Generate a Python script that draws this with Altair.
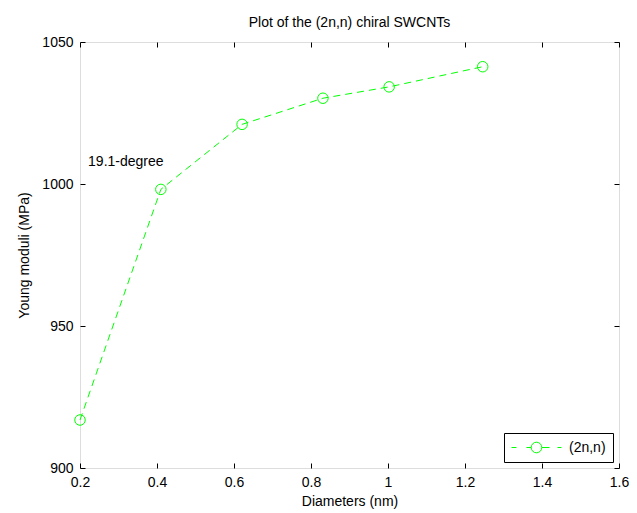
import altair as alt
import pandas as pd

# ---- data ----
diameters = [0.2, 0.41, 0.621, 0.831, 1.003, 1.246]
young_moduli = [916.9, 998.1, 1021.0, 1030.2, 1034.2, 1041.3]
series_name = ["(2n,n)"] * 6
x_ticks = [0.2, 0.4, 0.6, 0.8, 1.0, 1.2, 1.4, 1.6]
y_ticks = [900, 950, 1000, 1050]
annot_text = ["19.1-degree"]
annot_x = [0.221]
annot_y = [1007.7]

FONT = "Liberation Sans"
GREEN = "#00ff00"

df = pd.DataFrame({"d": diameters, "E": young_moduli, "s": series_name})
ann = pd.DataFrame({"t": annot_text, "x": annot_x, "y": annot_y})

xs = alt.Scale(domain=[0.2, 1.6], nice=False, zero=False)
ys = alt.Scale(domain=[900, 1050], nice=False, zero=False)

txt = dict(labelFont=FONT, labelFontSize=14, labelColor="black",
           titleFont=FONT, titleFontSize=14, titleFontWeight="normal",
           titleColor="black")

# labelled axes (no ticks)
x_labels = alt.Axis(values=x_ticks, format="~g", title="Diameters (nm)",
                    grid=False, domain=False, ticks=False, labelPadding=7,
                    titlePadding=5, labelFlush=False, **txt)
y_labels = alt.Axis(values=y_ticks, format="d", title="Young moduli (MPa)",
                    grid=False, domain=False, ticks=False, labelPadding=7,
                    titlePadding=10, labelFlush=False, **txt)

# inward tick marks: tick axes shifted into the plot by their tick length
tick_style = dict(grid=False, domain=False, labels=False, title=None,
                  ticks=True, tickSize=5, tickColor="black", tickWidth=1,
                  offset=-5, zindex=2)
x_bottom_ticks = alt.Axis(values=x_ticks, orient="bottom", **tick_style)
y_left_ticks = alt.Axis(values=y_ticks, orient="left", **tick_style)
x_top_ticks = alt.Axis(values=x_ticks, orient="top", **tick_style)
y_right_ticks = alt.Axis(values=y_ticks, orient="right", **tick_style)

# legend symbol: dashed line with a circle marker (unit = 7 px)
sym_path = ("M-1,0L-0.29,0M1.14,0L1.81,0M3.33,0L4.43,0M5.57,0L6.14,0"
            "M3.33,0A0.76,0.76 0 1,1 1.81,0A0.76,0.76 0 1,1 3.33,0")

legend = alt.Legend(title=None, orient="bottom-right", offset=6,
                    strokeColor="black", fillColor="white", padding=7,
                    symbolType=sym_path, symbolSize=196, symbolStrokeWidth=1,
                    symbolFillColor="transparent", labelOffset=43,
                    labelFont=FONT, labelFontSize=14, labelColor="black",
                    cornerRadius=0)

line = alt.Chart(df).mark_line(strokeDash=[7, 5], strokeWidth=1).encode(
    x=alt.X("d:Q", scale=xs, axis=x_labels),
    y=alt.Y("E:Q", scale=ys, axis=y_labels),
    color=alt.Color("s:N", scale=alt.Scale(domain=["(2n,n)"], range=[GREEN]),
                    legend=legend),
)

points = alt.Chart(df).mark_point(shape="circle", filled=False, size=110,
                                  strokeWidth=1, color=GREEN, opacity=1).encode(
    x=alt.X("d:Q", scale=xs, axis=x_bottom_ticks),
    y=alt.Y("E:Q", scale=ys, axis=y_left_ticks),
)

text = alt.Chart(ann).mark_text(align="left", baseline="middle", font=FONT,
                                fontSize=14, color="black").encode(
    x=alt.X("x:Q", scale=xs, axis=x_top_ticks),
    y=alt.Y("y:Q", scale=ys, axis=y_right_ticks),
    text="t:N",
)

chart = alt.layer(line, points, text).resolve_axis(
    x="independent", y="independent"
).properties(
    width=539, height=426,
    title=alt.TitleParams("Plot of the (2n,n) chiral SWCNTs", font=FONT,
                          fontSize=14, fontWeight="normal", color="black",
                          anchor="middle", offset=9, dy=4),
    autosize=alt.AutoSizeParams(type="none"),
    padding={"left": 72, "top": 34, "right": 10, "bottom": 42},
).configure_view(stroke="black", strokeWidth=1).configure(background="white")

chart.save("out.html", embed_options={"renderer": "svg", "actions": False})
